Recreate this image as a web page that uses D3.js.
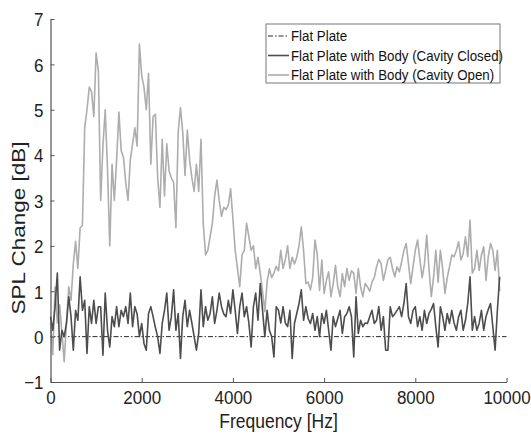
<!DOCTYPE html>
<html>
<head>
<meta charset="utf-8">
<script src="https://cdn.jsdelivr.net/npm/d3@7"></script>
<style>
  body { margin: 0; background: #fff; }
  svg text { font-family: "Liberation Sans", Arial, Helvetica, sans-serif; }
</style>
</head>
<body>
<div id="chart"></div>
<script>
// spectra sampled every 50 Hz, 0 .. 9850 Hz
var freqStep = 50;
var openSpl = [
  0.3, -0.4, 1.1, 0.3, 0.7, 0.1, -0.55, 0.3, 1.1, 0.8,
  1.6, 2.1, 1.5, 2.4, 2.45, 4.6, 5.0, 5.5, 5.4, 4.85,
  6.25, 5.85, 3.0, 4.2, 5.0, 3.7, 2.0, 3.8, 3.0, 3.9,
  4.95, 4.1, 3.95, 3.4, 3.0, 3.9, 4.25, 4.6, 4.2, 6.45,
  5.75, 5.5, 5.0, 5.8, 3.8, 4.85, 4.9, 3.5, 2.85, 4.35,
  3.1, 4.25, 3.65, 3.5, 3.4, 2.4, 4.5, 5.05, 4.5, 3.55,
  4.55, 3.9, 3.5, 3.2, 3.8, 3.2, 4.35, 2.5, 1.8, 1.9,
  2.2, 2.5, 3.1, 3.45, 3.0, 2.65, 2.85, 2.8, 2.9, 3.26,
  2.6, 1.9, 1.5, 1.1, 1.8, 1.9, 2.5, 2.2, 1.9, 2.0,
  1.5, 1.75, 1.4, 1.0, 0.55, 1.2, 1.5, 1.3, 1.4, 1.55,
  1.45, 1.9, 1.5, 1.7, 2.0, 1.5, 1.75, 1.6, 1.75, 2.0,
  2.42, 1.9, 1.17, 1.2, 1.03, 1.3, 2.13, 1.8, 1.02, 1.69,
  0.95, 1.24, 1.43, 0.88, 1.17, 1.57, 1.1, 0.88, 1.39, 1.1,
  1.5, 1.24, 1.45, 1.4, 0.95, 1.5, 1.1, 0.88, 1.17, 1.1,
  1.0, 1.2, 1.3, 1.54, 1.7, 1.61, 1.24, 1.46, 1.7, 1.75,
  1.5, 1.32, 1.54, 1.43, 1.65, 1.9, 2.05, 1.61, 1.17, 1.54,
  1.9, 2.13, 1.7, 1.3, 1.6, 2.24, 1.5, 0.88, 1.3, 1.9,
  1.2, 1.9, 1.5, 0.95, 1.3, 1.54, 1.8, 1.76, 1.9, 2.09,
  1.69, 1.83, 2.2, 1.76, 2.57, 1.4, 1.5, 1.9, 1.46, 1.8,
  1.98, 1.24, 1.76, 2.05, 1.9, 1.46, 1.9, 1.0
];
var closedSpl = [
  0.44, 0.14, 0.66, 1.4, -0.3, 0.14, 0.0, 0.29, 0.88, 0.44,
  -0.3, 0.58, 0.36, 1.32, 0.58, 0.8, -0.37, 0.66, 0.29, 0.8,
  0.29, 0.66, 0.66, -0.41, 0.96, 0.14, -0.23, 0.44, 0.22, 0.66,
  0.22, 0.58, 0.44, 0.66, 0.29, 0.96, 0.22, 0.66, 0.5, 0.0,
  0.29, -0.15, -0.3, 0.51, 0.66, 0.44, 0.2, 0.0, -0.37, 0.29,
  0.58, 0.96, 0.14, 0.44, 1.03, 0.14, 0.51, -0.48, 0.44, 0.8,
  0.22, 0.58, 0.3, 0.0, -0.3, 0.07, 1.03, 0.22, 0.66, 0.36,
  0.51, 0.88, 0.29, 0.58, 0.96, 0.66, 0.5, 0.44, 0.8, 0.51,
  1.03, 0.58, 0.07, 0.66, 0.96, 0.44, 0.66, 0.3, -0.23, 0.66,
  0.96, 0.36, 1.17, 0.58, 0.0, 0.58, 0.14, 0.0, -0.45, 0.66,
  0.58, 0.3, 0.66, 0.3, 0.22, 0.58, -0.48, 0.29, 0.51, 0.73,
  1.03, 0.36, 0.66, 0.4, 0.29, 0.51, 0.14, 0.44, 0.0, 0.51,
  0.29, 0.58, 0.14, -0.3, 0.44, 0.22, 0.4, 0.58, 0.07, 0.44,
  0.51, 0.66, 0.44, -0.45, 0.88, 0.07, 0.36, 0.22, 0.3, 0.29,
  0.44, 0.58, 0.29, 0.36, 0.66, 0.14, 0.44, -0.3, -0.3, 0.66,
  0.44, 0.5, 0.58, 0.66, 0.44, 0.73, 1.17, 0.44, 0.29, 0.58,
  0.66, 0.22, 0.44, 0.14, 0.58, 0.29, 0.51, 0.6, 0.73, 0.22,
  -0.23, 0.66, 0.44, 0.14, 0.51, 0.29, 0.58, 0.3, 0.14, 0.44,
  0.58, 0.14, 0.36, 0.73, 1.32, 0.14, 0.44, 0.14, 0.29, 0.58,
  0.14, 0.44, 0.6, 0.73, 0.22, -0.3, 0.58, 1.32
];
var flatFreq = [0, 10000];
var flatSpl = [0, 0];
var xTicks = [0, 2000, 4000, 6000, 8000, 10000];
var yTicks = [-1, 0, 1, 2, 3, 4, 5, 6, 7];
var legendLabels = ['Flat Plate', 'Flat Plate with Body (Cavity Closed)', 'Flat Plate with Body (Cavity Open)'];

var width = 531, height = 434;
var margin = {top: 19, right: 24.5, bottom: 52, left: 50.5};
var stretch = 1.12; // the source image text is a bit taller than wide

var svg = d3.select('#chart').append('svg')
  .attr('width', width).attr('height', height);

var x = d3.scaleLinear().domain([0, 10000]).range([margin.left, width - margin.right]);
var y = d3.scaleLinear().domain([-1, 7]).range([height - margin.bottom, margin.top]);

var toPts = function(vals) {
  return vals.map(function(v, i) { return [i * freqStep, v]; });
};
var line = d3.line().x(function(d) { return x(d[0]); }).y(function(d) { return y(d[1]); });

// flat plate reference
svg.append('path')
  .datum(flatFreq.map(function(f, i) { return [f, flatSpl[i]]; }))
  .attr('d', line).attr('fill', 'none')
  .attr('stroke', '#111').attr('stroke-width', 0.9)
  .attr('stroke-dasharray', '5,2,1.5,2');

svg.append('path').datum(toPts(openSpl)).attr('d', line)
  .attr('fill', 'none').attr('stroke', '#adadad').attr('stroke-width', 1.6)
  .attr('stroke-linejoin', 'round');

svg.append('path').datum(toPts(closedSpl)).attr('d', line)
  .attr('fill', 'none').attr('stroke', '#4d4d4d').attr('stroke-width', 1.6)
  .attr('stroke-linejoin', 'round');

// axes (matlab style, ticks inward)
var xAxis = svg.append('g')
  .attr('transform', 'translate(0,' + (height - margin.bottom) + ')')
  .call(d3.axisBottom(x).tickValues(xTicks).tickFormat(d3.format('d')).tickSizeInner(-4).tickSizeOuter(0));
var yAxis = svg.append('g')
  .attr('transform', 'translate(' + margin.left + ',0)')
  .call(d3.axisLeft(y).tickValues(yTicks).tickFormat(d3.format('d')).tickSizeInner(-4).tickSizeOuter(0));

[xAxis, yAxis].forEach(function(g) {
  g.select('.domain').attr('stroke', '#555').attr('stroke-width', 1.2);
  g.selectAll('.tick line').attr('stroke', '#555');
  g.selectAll('.tick text').attr('fill', '#222').attr('font-size', 17)
    .attr('y', null).attr('dy', null).attr('x', 0);
});
xAxis.selectAll('.tick text').attr('transform', 'translate(0,22) scale(1,' + stretch + ')');
yAxis.selectAll('.tick text').attr('transform', 'translate(-7,6.8) scale(1,' + stretch + ')');

svg.append('text')
  .attr('transform', 'translate(' + ((margin.left + width - margin.right) / 2) + ',428) scale(1,' + stretch + ')')
  .attr('text-anchor', 'middle').attr('font-size', 17.5).attr('fill', '#222')
  .text('Frequency [Hz]');

svg.append('text')
  .attr('transform', 'translate(25,228) rotate(-90) scale(1.25,1)')
  .attr('text-anchor', 'middle').attr('font-size', 18).attr('fill', '#222')
  .text('SPL Change [dB]');

// legend
var legend = svg.append('g').attr('transform', 'translate(266,24)');
legend.append('rect').attr('width', 234).attr('height', 59)
  .attr('fill', '#fff').attr('stroke', '#777').attr('stroke-width', 1);
var legendStyles = [
  {stroke: '#111', w: 0.9, dash: '5,2,1.5,2'},
  {stroke: '#4d4d4d', w: 1.6, dash: null},
  {stroke: '#adadad', w: 1.6, dash: null}
];
legendLabels.forEach(function(lbl, i) {
  var yy = 12 + i * 19.5;
  legend.append('line').attr('x1', 2).attr('x2', 23).attr('y1', yy).attr('y2', yy)
    .attr('stroke', legendStyles[i].stroke).attr('stroke-width', legendStyles[i].w)
    .attr('stroke-dasharray', legendStyles[i].dash);
  legend.append('text').attr('transform', 'translate(25,' + (yy + 5) + ') scale(1,' + stretch + ')')
    .attr('font-size', 13.3).attr('fill', '#111').text(lbl);
});
</script>
</body>
</html>
